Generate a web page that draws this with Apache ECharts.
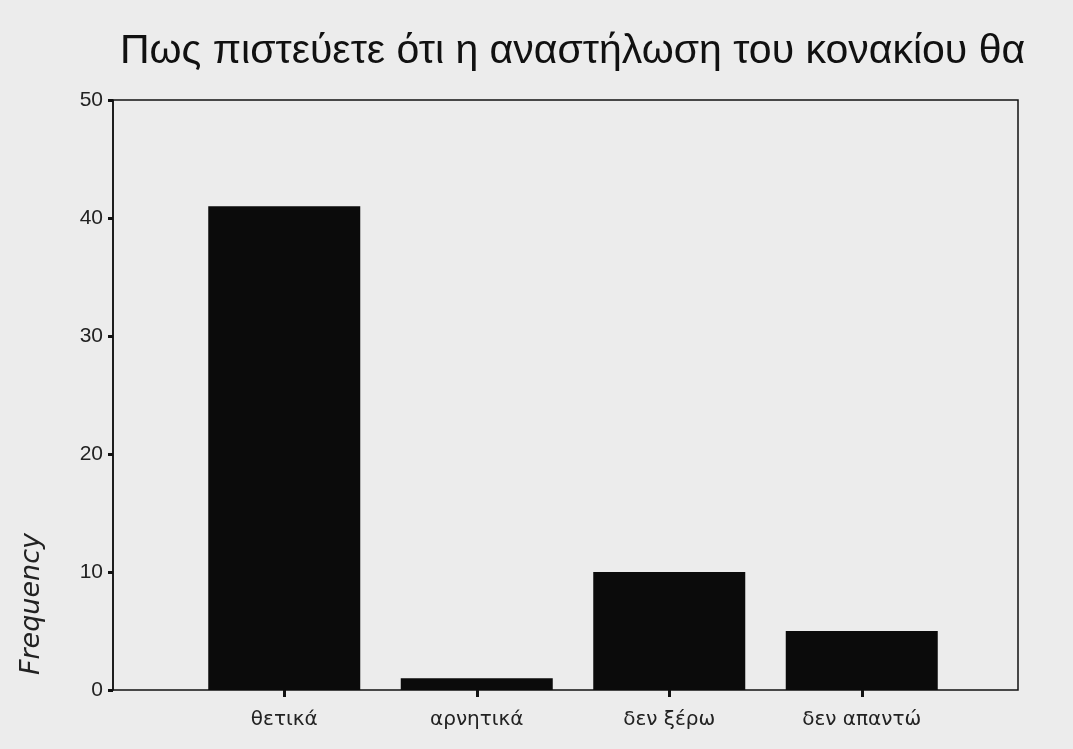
<!DOCTYPE html>
<html>
<head>
<meta charset="utf-8">
<script src="https://cdn.jsdelivr.net/npm/echarts@6/dist/echarts.min.js"></script>
<style>
html,body{margin:0;padding:0;background:#ececec;}
#c{width:1073px;height:749px;}
</style>
</head>
<body>
<div id="c"></div>
<script>
const titleText = 'Πως πιστεύετε ότι η αναστήλωση του κονακίου θα';
const categories = ['θετικά', 'αρνητικά', 'δεν ξέρω', 'δεν απαντώ'];
const frequencies = [41, 1, 10, 5];
const yTicks = [0, 10, 20, 30, 40, 50];
const yAxisTitle = 'Frequency';

const chart = echarts.init(document.getElementById('c'));
const font = 'Liberation Sans, Arial, sans-serif';
const wide = 'DejaVu Sans, sans-serif';
chart.setOption({
  backgroundColor: '#ececec',
  animation: false,
  title: {
    text: titleText,
    left: 115, top: 26,
    textStyle: {fontFamily: font, fontSize: 41, fontWeight: 'normal', color: '#111'}
  },
  grid: [
    {left: 113, right: 55, top: 100, bottom: 59, show: true, borderColor: '#111', borderWidth: 1.5, backgroundColor: 'transparent'},
    {left: 188, right: 115, top: 100, bottom: 59}
  ],
  xAxis: [
    {gridIndex: 0, type: 'category', data: categories, show: false},
    {gridIndex: 1, type: 'category', data: categories,
     axisLine: {show: false},
     axisTick: {show: true, alignWithLabel: true, length: 7, lineStyle: {color: '#111', width: 3}},
     axisLabel: {fontFamily: wide, fontSize: 20, color: '#222', margin: 20}}
  ],
  yAxis: [
    {gridIndex: 0, type: 'value', min: 0, max: 50, interval: 10,
     axisLine: {show: true, lineStyle: {color: '#111', width: 1.5}},
     axisTick: {show: true, length: 5, lineStyle: {color: '#111', width: 3}},
     splitLine: {show: false},
     axisLabel: {fontFamily: font, fontSize: 21, color: '#222', margin: 10,
       formatter: v => yTicks.includes(v) ? String(v) : ''}},
    {gridIndex: 1, type: 'value', min: 0, max: 50, interval: 10, show: false, splitLine: {show: false}}
  ],
  graphic: [{
    type: 'text', left: 18, top: 533, rotation: Math.PI / 2,
    style: {text: yAxisTitle, fontFamily: wide, fontStyle: 'italic', fontSize: 27, fill: '#222'}
  }],
  series: [{
    type: 'bar', xAxisIndex: 1, yAxisIndex: 1,
    data: frequencies, barWidth: 152,
    itemStyle: {color: '#0b0b0b'}
  }]
});
</script>
</body>
</html>
